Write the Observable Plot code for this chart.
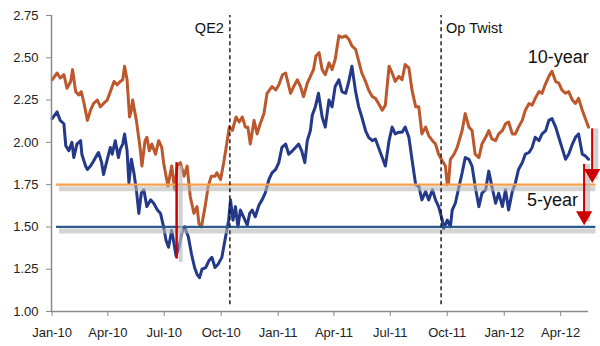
<!DOCTYPE html>
<html><head><meta charset="utf-8">
<script src="https://cdn.jsdelivr.net/npm/d3@7"></script>
<script src="https://cdn.jsdelivr.net/npm/@observablehq/plot@0.6"></script>
<style>body{margin:0;background:#fff}svg{display:block}</style>
</head><body><div id="chart"></div>
<script>
// Observations: [days since 2010-01-01, value]
const startDate = "2010-01-01";
const tenYear = [[0,2.37],[8,2.41],[13,2.38],[19,2.40],[24,2.32],[30,2.36],[33,2.43],[38,2.30],[43,2.28],[47,2.30],[51,2.24],[57,2.13],[62,2.19],[67,2.23],[73,2.25],[78,2.21],[83,2.23],[89,2.25],[94,2.30],[100,2.36],[105,2.34],[110,2.36],[114,2.37],[117,2.45],[121,2.37],[125,2.15],[128,2.19],[130,2.25],[136,2.13],[142,1.97],[145,1.86],[150,2.01],[153,2.03],[157,1.95],[161,1.99],[167,1.93],[172,2.01],[177,1.97],[180,1.88],[184,1.80],[187,1.74],[193,1.86],[198,1.72],[202,1.86],[207,1.88],[213,1.80],[218,1.86],[223,1.68],[229,1.58],[234,1.62],[237,1.52],[241,1.50],[247,1.62],[252,1.74],[257,1.80],[263,1.80],[266,1.82],[272,1.78],[277,1.88],[281,1.97],[286,2.09],[291,2.07],[297,2.15],[302,2.12],[307,2.15],[312,2.09],[316,2.09],[320,1.99],[326,2.13],[331,2.05],[336,2.11],[342,2.17],[347,2.29],[355,2.33],[361,2.31],[366,2.34],[372,2.40],[377,2.41],[385,2.29],[390,2.33],[396,2.37],[401,2.33],[406,2.27],[412,2.35],[417,2.39],[422,2.43],[426,2.51],[431,2.53],[436,2.43],[441,2.40],[447,2.47],[452,2.43],[457,2.49],[463,2.63],[468,2.62],[474,2.63],[479,2.61],[484,2.57],[490,2.55],[495,2.48],[500,2.41],[506,2.36],[511,2.31],[517,2.27],[522,2.26],[527,2.23],[533,2.19],[538,2.22],[544,2.45],[549,2.41],[554,2.36],[560,2.39],[565,2.37],[570,2.46],[576,2.44],[581,2.31],[587,2.21],[592,2.21],[597,2.05],[603,2.09],[608,2.04],[614,2.01],[619,1.99],[624,1.93],[630,1.89],[635,1.86],[638,1.75],[640,1.76],[643,1.90],[649,1.93],[654,1.97],[662,2.07],[667,2.17],[673,2.09],[678,2.07],[683,1.93],[689,1.91],[694,1.99],[700,2.03],[705,2.07],[710,2.02],[716,2.01],[721,2.05],[727,2.07],[732,2.11],[737,2.12],[743,2.05],[748,2.05],[753,2.09],[759,2.13],[764,2.19],[770,2.23],[775,2.22],[780,2.26],[786,2.30],[791,2.29],[796,2.34],[802,2.39],[807,2.42],[813,2.36],[818,2.35],[823,2.31],[829,2.29],[834,2.30],[840,2.25],[845,2.23],[850,2.26],[856,2.19],[861,2.14],[866,2.09]];
const fiveYear = [[0,2.14],[8,2.18],[13,2.13],[19,2.11],[22,1.98],[27,1.95],[32,2.00],[35,1.91],[40,1.99],[46,2.01],[48,1.93],[54,1.86],[57,1.84],[62,1.86],[67,1.89],[73,1.93],[75,1.94],[80,1.88],[83,1.81],[89,1.90],[94,1.97],[97,1.93],[102,2.01],[107,1.91],[110,1.96],[114,1.99],[117,2.05],[121,1.95],[124,1.76],[128,1.90],[132,1.82],[136,1.72],[140,1.58],[144,1.70],[148,1.72],[153,1.62],[159,1.66],[164,1.64],[170,1.60],[175,1.58],[180,1.50],[184,1.42],[188,1.38],[193,1.48],[196,1.42],[200,1.33],[205,1.38],[209,1.46],[214,1.50],[220,1.44],[225,1.34],[230,1.26],[234,1.22],[238,1.20],[242,1.25],[248,1.26],[253,1.30],[258,1.32],[263,1.26],[268,1.28],[274,1.32],[280,1.44],[285,1.54],[288,1.66],[292,1.54],[296,1.62],[300,1.50],[304,1.60],[309,1.56],[315,1.51],[319,1.58],[323,1.60],[328,1.56],[334,1.63],[339,1.66],[344,1.70],[350,1.78],[355,1.82],[361,1.84],[366,1.88],[371,1.97],[377,1.99],[382,1.93],[388,1.95],[393,1.97],[398,1.99],[403,1.95],[408,1.88],[412,2.01],[417,2.07],[420,2.16],[425,2.21],[430,2.29],[436,2.15],[441,2.09],[447,2.25],[452,2.21],[457,2.33],[463,2.37],[468,2.30],[474,2.29],[479,2.36],[484,2.45],[490,2.30],[495,2.21],[500,2.15],[506,2.07],[511,2.03],[517,2.01],[522,2.02],[527,1.97],[533,1.91],[538,1.86],[544,2.01],[549,2.09],[554,2.05],[560,2.06],[565,2.06],[570,2.09],[576,2.03],[581,1.90],[587,1.75],[592,1.74],[597,1.66],[603,1.71],[608,1.66],[614,1.72],[619,1.66],[624,1.62],[630,1.54],[632,1.49],[638,1.54],[643,1.50],[646,1.60],[651,1.64],[657,1.74],[662,1.82],[667,1.91],[673,1.90],[678,1.86],[683,1.74],[689,1.62],[694,1.70],[700,1.72],[705,1.83],[710,1.74],[716,1.64],[721,1.70],[727,1.62],[732,1.72],[737,1.60],[743,1.71],[748,1.76],[753,1.84],[759,1.88],[764,1.93],[770,1.94],[775,1.97],[780,2.03],[786,2.01],[791,2.05],[797,2.07],[802,2.13],[807,2.14],[813,2.09],[818,2.03],[823,1.97],[829,1.90],[834,1.93],[840,1.99],[845,2.03],[850,2.05],[856,1.93],[861,1.92],[866,1.90]];
const yTicks = [1.00,1.25,1.50,1.75,2.00,2.25,2.50,2.75];
const xTicks = ["2010-01-01","2010-04-01","2010-07-01","2010-10-01","2011-01-01","2011-04-01","2011-07-01","2011-10-01","2012-01-01","2012-04-01"];
const qe2Date = "2010-10-15";
const opTwistDate = "2011-09-21";
const levelValues = [1.75, 1.50];
const levelColors = ["#F5A04C", "#2C5A8C"];
const levelSpan = ["2010-01-08", "2012-05-28"];
const julyDrop = {date: "2010-07-21", from: 1.88, to: 1.31};
const arrowDates = ["2012-05-22", "2012-05-09"];
const arrowFrom = [2.08, 1.87];
const arrowTo = [1.78, 1.53];
const seriesNames = ["10-year", "5-year"];
const labelDates = ["2012-03-28", "2012-03-19"];
const labelValues = [2.505, 1.66];

const D = s => new Date(s + "T00:00:00Z");
const start = D(startDate);
const rows = (pairs) => pairs.map(([d, v]) => ({date: d3.utcDay.offset(start, d), value: v}));
const ten = rows(tenYear);
const five = rows(fiveYear);
const levels = levelValues.map((v, i) => ({value: v, color: levelColors[i], x1: D(levelSpan[0]), x2: D(levelSpan[1])}));
const arrows = arrowDates.map((d, i) => ({date: D(d), from: arrowFrom[i], to: arrowTo[i]}));
const labels = seriesNames.map((n, i) => ({name: n, date: D(labelDates[i]), value: labelValues[i]}));
const drop = [{date: D(julyDrop.date), from: julyDrop.from, to: julyDrop.to}];

const chart = Plot.plot({
  width: 600, height: 346,
  marginLeft: 51, marginRight: 12, marginTop: 15, marginBottom: 35,
  style: {fontFamily: "'Liberation Sans', Arial, sans-serif", fontSize: "13px", color: "#222", background: "#fff", overflow: "visible"},
  x: {type: "utc", domain: [D("2009-12-31"), D("2012-05-16")]},
  y: {domain: [1, 2.75]},
  marks: [
    Plot.line(five, {x: "date", y: "value", stroke: "#24398A", strokeWidth: 3, strokeLinejoin: "round"}),
    Plot.line(ten, {x: "date", y: "value", stroke: "#BC582C", strokeWidth: 3, strokeLinejoin: "round"}),
    Plot.ruleY(levels, {y: "value", x1: d => d3.utcDay.offset(d.x1, 5), x2: "x2", stroke: "#b8b8b8", strokeWidth: 5, dy: 4, strokeOpacity: 0.6}),
    Plot.ruleY(levels, {y: "value", x1: "x1", x2: "x2", stroke: "color", strokeWidth: 2.2}),
    Plot.ruleX([D(qe2Date), D(opTwistDate)], {y1: 1.04, y2: 2.75, stroke: "#111", strokeWidth: 1.4, strokeDasharray: "4,3"}),
    Plot.text(["QE2"], {x: D(qe2Date), frameAnchor: "top", text: d => d, textAnchor: "end", dx: -6, dy: 7, fontSize: 14.5, fill: "#111"}),
    Plot.text(["Op Twist"], {x: D(opTwistDate), frameAnchor: "top", text: d => d, textAnchor: "start", dx: 5, dy: 7, fontSize: 14.5, fill: "#111"}),
    Plot.ruleX(drop, {x: "date", y1: d => d.from - 0.02, y2: d => d.to - 0.02, stroke: "#bdbdbd", strokeWidth: 4, dx: 4, strokeOpacity: 0.7}),
    Plot.ruleX(drop, {x: "date", y1: "from", y2: "to", stroke: "#CC0000", strokeWidth: 2.5}),
    Plot.ruleX(arrows, {x: "date", y1: "from", y2: "to", stroke: "#bdbdbd", strokeWidth: 4, dx: 4, strokeOpacity: 0.7}),
    Plot.ruleX(arrows, {x: "date", y1: "from", y2: d => d.to + 0.04, stroke: "#CC0000", strokeWidth: 2.2}),
    Plot.dot(arrows, {x: "date", y: "to", symbol: "triangle", rotate: 180, r: 6, fill: "#CC0000", stroke: "none", dy: -6}),
    Plot.text(labels, {x: "date", y: "value", text: "name", fontSize: 18, fill: "#111"}),
    Plot.ruleX([D("2009-12-31")], {y1: 1, y2: 2.75, stroke: "#8a8a8a", strokeWidth: 1.5}),
    Plot.ruleY([1], {stroke: "#8a8a8a", strokeWidth: 1.5}),
    Plot.axisY({ticks: yTicks, tickFormat: d3.format(".2f"), tickSize: 5, tickPadding: 8, label: null, fontSize: 13, stroke: "#8a8a8a", fill: "#222"}),
    Plot.axisX({ticks: xTicks.map(D), tickFormat: d3.utcFormat("%b-%y"), tickSize: 5, tickPadding: 11, label: null, fontSize: 13, stroke: "#8a8a8a", fill: "#222"})
  ]
});
document.getElementById("chart").append(chart);
</script>
</body></html>
